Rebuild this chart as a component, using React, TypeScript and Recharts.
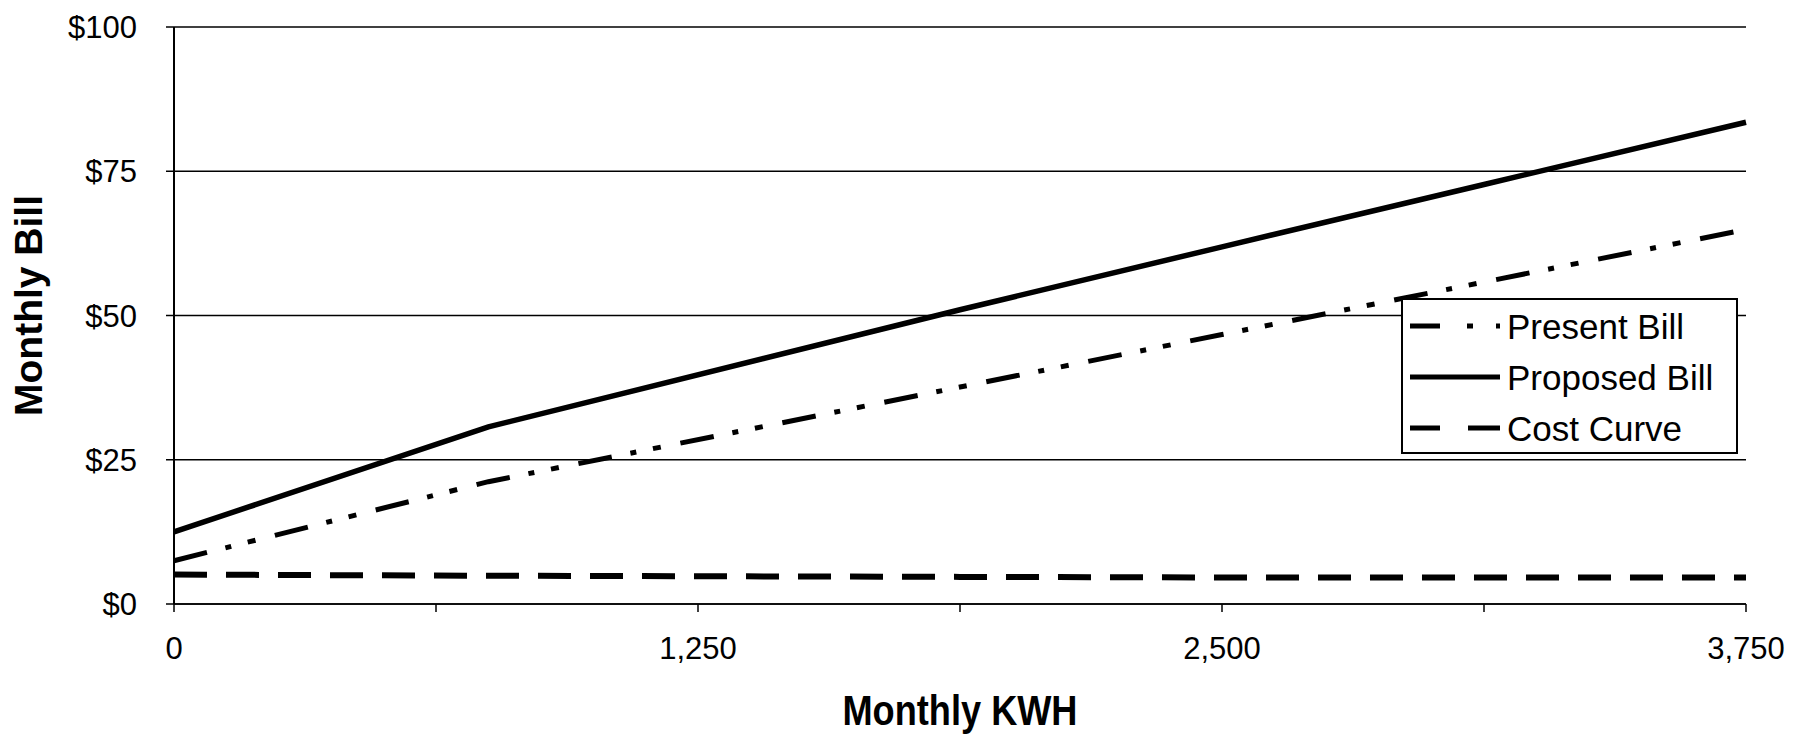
import React from "react";
import { CartesianGrid, Legend, Line, LineChart, XAxis, YAxis } from "recharts";

const kwh = [0, 750, 1875, 2500, 3125, 3750];
const presentBill = [7.5, 21.2, 37.6, 46.7, 55.8, 64.9];
const proposedBill = [12.5, 30.7, 51.0, 61.9, 72.7, 83.5];
const costCurve = [5.1, 4.9, 4.7, 4.6, 4.6, 4.6];

const xTicks = [0, 625, 1250, 1875, 2500, 3125, 3750];
const yTicks = [0, 25, 50, 75, 100];

const font = "'Liberation Sans', Arial, sans-serif";

const data = kwh.map((k, i) => ({
  kwh: k,
  present: presentBill[i],
  proposed: proposedBill[i],
  cost: costCurve[i],
}));

const legendItems = [
  { name: "Present Bill", dash: "30 27 6 23 4 100" },
  { name: "Proposed Bill", dash: undefined },
  { name: "Cost Curve", dash: "30 28 40" },
];

const LegendBox = () => (
  <svg width={337} height={156}>
    <rect x={1} y={1} width={335} height={154} fill="#fff" stroke="#000" strokeWidth={2} />
    {legendItems.map((item, i) => {
      const y = 28 + i * 51;
      return (
        <g key={item.name}>
          <line x1={9} x2={99} y1={y} y2={y} stroke="#000" strokeWidth={5} strokeDasharray={item.dash} />
          <text x={106} y={y} dominantBaseline="central" fontSize={35} fontFamily={font} fill="#000">
            {item.name}
          </text>
        </g>
      );
    })}
  </svg>
);

const XTitle = (props: any) => {
  const { viewBox } = props;
  return (
    <text
      x={viewBox.x + viewBox.width / 2}
      y={viewBox.y + 121}
      textAnchor="middle"
      fontSize={42}
      fontWeight="bold"
      fontFamily={font}
      textLength={235}
      lengthAdjust="spacingAndGlyphs"
      fill="#000"
    >
      Monthly KWH
    </text>
  );
};

const YTitle = (props: any) => {
  const { viewBox } = props;
  const cx = 42;
  const cy = viewBox.y + viewBox.height / 2 - 10;
  return (
    <text
      x={cx}
      y={cy}
      transform={`rotate(-90 ${cx} ${cy})`}
      textAnchor="middle"
      fontSize={39}
      fontWeight="bold"
      fontFamily={font}
      fill="#000"
    >
      Monthly Bill
    </text>
  );
};

export default function App() {
  return (
    <div style={{ position: "absolute", left: 0, top: 0, fontFamily: font, background: "#fff" }}>
      <LineChart width={1809} height={735} data={data} margin={{ top: 27, right: 63, bottom: 0, left: 0 }}>
        <CartesianGrid vertical={false} stroke="#000" strokeWidth={1.5} />
        <XAxis
          dataKey="kwh"
          type="number"
          domain={[0, 3750]}
          ticks={xTicks}
          interval={0}
          height={131}
          tickSize={8}
          tickMargin={25}
          tickFormatter={(v: number) => (v % 1250 === 0 ? v.toLocaleString("en-US") : "")}
          axisLine={{ stroke: "#000", strokeWidth: 1.5 }}
          tickLine={{ stroke: "#000", strokeWidth: 1.5 }}
          tick={{ fill: "#000", fontSize: 31, fontFamily: font }}
          label={XTitle}
        />
        <YAxis
          type="number"
          domain={[0, 100]}
          ticks={yTicks}
          interval={0}
          width={174}
          tickSize={8}
          tickMargin={29}
          tickFormatter={(v: number) => `$${v}`}
          axisLine={{ stroke: "#000", strokeWidth: 2 }}
          tickLine={{ stroke: "#000", strokeWidth: 1.5 }}
          tick={{ fill: "#000", fontSize: 31, fontFamily: font }}
          label={YTitle}
        />
        <Legend
          layout="vertical"
          align="center"
          verticalAlign="middle"
          width={337}
          height={156}
          wrapperStyle={{ left: 1401, top: 298, width: 337, height: 156 }}
          content={LegendBox}
        />
        <Line
          dataKey="present"
          name="Present Bill"
          type="linear"
          stroke="#000"
          strokeWidth={5}
          strokeDasharray="34 19 6 17 8 20"
          dot={false}
          isAnimationActive={false}
        />
        <Line
          dataKey="proposed"
          name="Proposed Bill"
          type="linear"
          stroke="#000"
          strokeWidth={5.5}
          dot={false}
          isAnimationActive={false}
        />
        <Line
          dataKey="cost"
          name="Cost Curve"
          type="linear"
          stroke="#000"
          strokeWidth={6}
          strokeDasharray="33 19"
          dot={false}
          isAnimationActive={false}
        />
      </LineChart>
    </div>
  );
}
